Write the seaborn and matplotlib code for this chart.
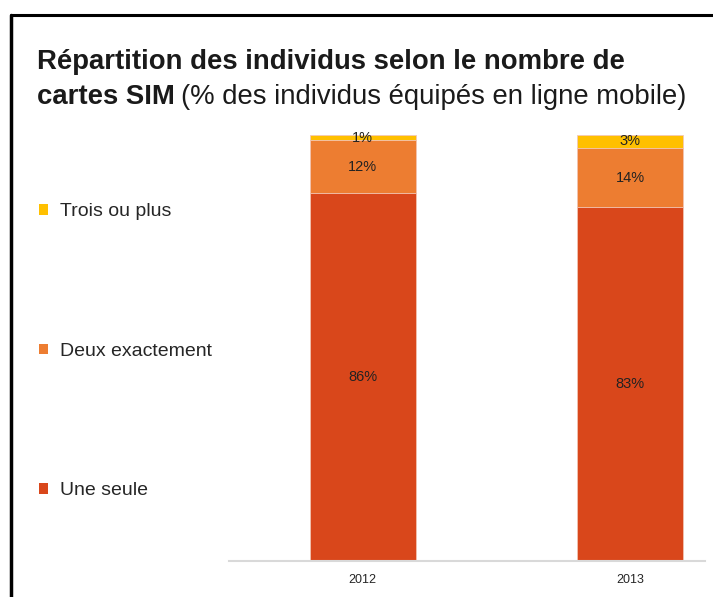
import matplotlib
matplotlib.use('Agg')
import numpy as np
import pandas as pd
import seaborn as sns
from matplotlib import pyplot as plt
from matplotlib.lines import Line2D
from matplotlib.patches import Patch

# data
years = ['2012', '2013']
une_seule = [86.4, 83.0]
deux_exactement = [12.4, 14.0]
trois_ou_plus = [1.2, 3.0]
series_names = ['Une seule', 'Deux exactement', 'Trois ou plus']
colors = ['#D9471B', '#ED7D31', '#FFC000']

sns.set_style('white')
plt.rcParams['font.family'] = ['Liberation Sans', 'DejaVu Sans']

fig = plt.figure(figsize=(7.13, 5.97), dpi=100)
ax = fig.add_axes([0.3212, 0.0603, 0.6676, 0.7136])

df = pd.DataFrame({'annee': years,
                   'Une seule': une_seule,
                   'Deux exactement': deux_exactement,
                   'Trois ou plus': trois_ou_plus})
cum = df[series_names].cumsum(axis=1)

# stacked bars: draw the cumulated totals from the top segment down
for name, col in zip(series_names[::-1], colors[::-1]):
    sns.barplot(x=df['annee'], y=cum[name], color=col, width=0.397,
                edgecolor='#f3c9b8', linewidth=0.6, saturation=1, ax=ax)

# value labels in the middle of each segment
for i in range(len(years)):
    low = 0
    for name in series_names:
        v = df[name][i]
        ax.text(i, low + v / 2, '%d%%' % round(v), ha='center', va='center',
                fontsize=10.5, color='#222222')
        low += v

ax.set_xlim(-0.5, 1.28)
ax.set_ylim(0, 100)
ax.set_xlabel('')
ax.set_ylabel('')
ax.set_yticks([])
ax.tick_params(axis='x', length=0, labelsize=9, pad=9)
for s in ['top', 'right', 'left']:
    ax.spines[s].set_visible(False)
ax.spines['bottom'].set_color('#d9d9d9')
ax.spines['bottom'].set_linewidth(1.5)

# legend on the left
handles = [Patch(facecolor=c, edgecolor='none') for c in colors[::-1]]
leg = fig.legend(handles, series_names[::-1], loc='center left',
                 bbox_to_anchor=(0.055, 0.4115), frameon=False,
                 fontsize=14, handlelength=0.45, handleheight=0.45,
                 handletextpad=0.6, labelspacing=6.3,
                 borderpad=0, borderaxespad=0)

# title, two lines, partly bold
fig.text(37 / 713, 1 - 69 / 597, 'Répartition des individus selon le nombre de',
         fontsize=19.8, fontweight='bold', color='#1a1a1a', va='baseline')
t2 = fig.text(37 / 713, 1 - 104 / 597, 'cartes SIM', fontsize=19.8,
              fontweight='bold', color='#1a1a1a', va='baseline')
fig.canvas.draw()
bb = t2.get_window_extent()
fig.text((bb.x1 + 6) / 713, 1 - 104 / 597,
         '(% des individus équipés en ligne mobile)', fontsize=19.8,
         color='#1a1a1a', va='baseline')

# frame around the chart (left and top)
fig.add_artist(Line2D([11 / 713, 11 / 713], [0, 1 - 15 / 597],
                      color='black', linewidth=2.5))
fig.add_artist(Line2D([11 / 713, 1], [1 - 15 / 597, 1 - 15 / 597],
                      color='black', linewidth=2.2))

plt.savefig('out.png', dpi=100)
